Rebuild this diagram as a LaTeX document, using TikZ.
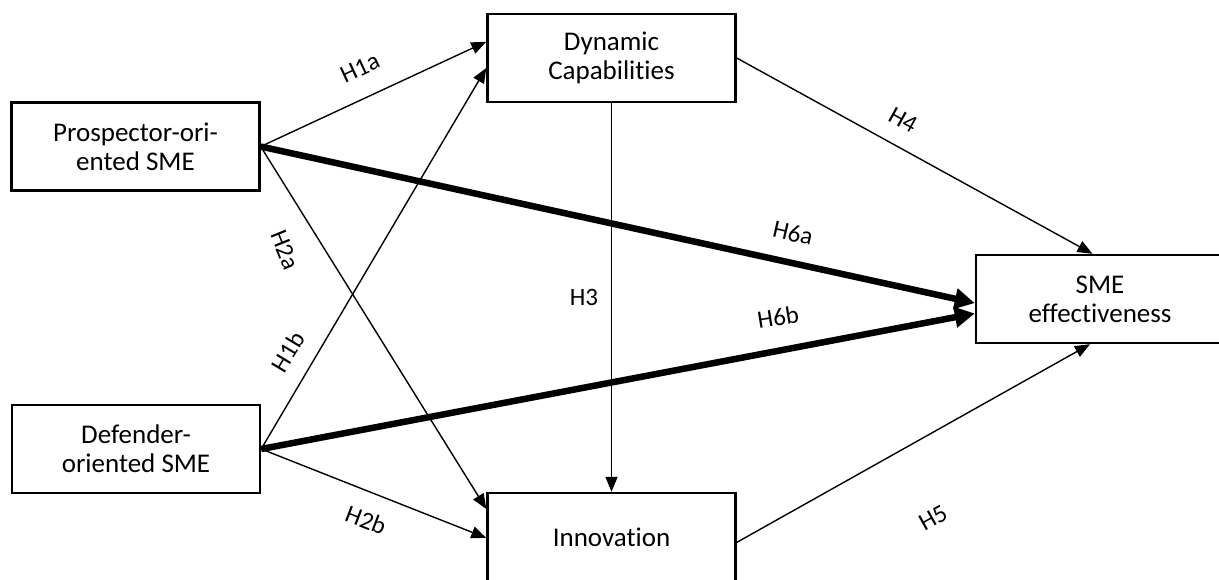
\documentclass[tikz,border=0pt]{standalone}
\usepackage{fontspec}
\setmainfont{Carlito}[Ligatures=CommonOff]
\usetikzlibrary{arrows.meta,calc}
\begin{document}
\begin{tikzpicture}[x=1pt,y=-1pt,
  box/.style={draw,line width=2.4pt,minimum width=248pt,minimum height=88pt,inner sep=0pt,
    align=center,font=\fontsize{27}{29}\selectfont},
  thin/.style={line width=1.4pt,-{Triangle[length=15pt,width=12pt]}},
  thick/.style={line width=6.5pt,-{Triangle[length=20pt,width=20pt]}},
  lab/.style={font=\fontsize{25}{29}\selectfont,inner sep=0pt}]
\useasboundingbox (0,0) rectangle (1219,579);
\clip (0,0) rectangle (1219,579);
\node[box] (P) at (135.5,146.5) {Prospector-ori-\\ented SME};
\node[box] (F) at (136,449) {Defender-\\oriented SME};
\node[box] (D) at (611.5,58) {Dynamic\\Capabilities};
\node[box] (I) at (611.5,537) {Innovation};
\node[box] (S) at (1100,299) {SME\\effectiveness};
% thin arrows
\draw[thin] (P.east) -- ($(D.north west)!0.32!(D.south west)$);
\draw[thin] (P.east) -- ($(I.north west)!0.19!(I.south west)$);
\draw[thin] (F.east) -- ($(D.north west)!0.61!(D.south west)$);
\draw[thin] (F.east) -- ($(I.north west)!0.51!(I.south west)$);
\draw[thin] (D.south) -- (I.north);
\draw[thin] (D.east) -- ($(S.north west)!0.47!(S.north east)$);
\draw[thin] ($(I.north east)!0.56!(I.south east)$) -- ($(S.south west)!0.46!(S.south east)$);
% thick arrows
\draw[thick] (P.east) -- ($(S.north west)!0.545!(S.south west)$);
\draw[thick] (F.east) -- ($(S.north west)!0.66!(S.south west)$);
% labels
\node[lab,rotate=25] (l1a) at (360,68) {H1a};
\node[lab,rotate=-68] (l2a) at (285,250) {H2a};
\node[lab,rotate=59] (l1b) at (288,352) {H1b};
\node[lab,rotate=-21] (l2b) at (366,520) {H2b};
\node[lab] (l3) at (584,297) {H3};
\node[lab,rotate=-29] (l4) at (903,120) {H4};
\node[lab,rotate=29] (l5) at (933,518) {H5};
\node[lab,rotate=-13] (l6a) at (793,233) {H6a};
\node[lab,rotate=9] (l6b) at (778,317) {H6b};
\end{tikzpicture}
\end{document}
